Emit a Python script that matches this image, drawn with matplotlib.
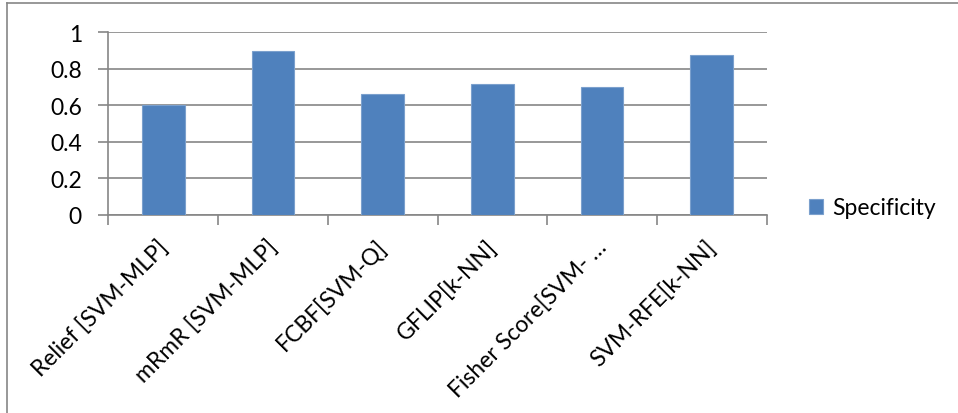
import matplotlib
matplotlib.use("Agg")
import matplotlib.pyplot as plt
from matplotlib.lines import Line2D

categories = ["Relief [SVM-MLP]", "mRmR [SVM-MLP]", "FCBF[SVM-Q]",
              "GFLIP[k-NN]", "Fisher Score[SVM- \u2026", "SVM-RFE[k-NN]"]
specificity = [0.60, 0.90, 0.66, 0.715, 0.70, 0.877]
y_ticks = [0, 0.2, 0.4, 0.6, 0.8, 1]
y_tick_labels = ["0", "0.2", "0.4", "0.6", "0.8", "1"]
series_name = "Specificity"

plt.rcParams["font.family"] = ["Lato", "DejaVu Sans"]
FS = 16.5

W, H = 958, 414
fig = plt.figure(figsize=(W / 100, H / 100), dpi=100)
ax = fig.add_axes([108.3 / W, 1 - 216 / H, (766.7 - 108.3) / W, (216 - 33.3) / H])

bar_color = "#4F81BD"
grid_color = "#868686"

x = list(range(len(categories)))
ax.bar(x, specificity, width=0.39, color=bar_color, edgecolor="#7BA0CD",
       linewidth=0.8, label=series_name, zorder=3)

ax.set_xlim(-0.5, len(categories) - 0.5)
ax.set_ylim(0, 1)
ax.set_yticks(y_ticks)
ax.set_yticklabels(y_tick_labels, fontsize=FS)
ax.yaxis.grid(True, color=grid_color, linewidth=1.2, zorder=0)
ax.tick_params(axis="y", length=7, width=1.2, color=grid_color, pad=12)

# category boundary ticks on the x axis
ax.set_xticks([i - 0.5 for i in range(len(categories) + 1)])
ax.set_xticklabels([])
ax.tick_params(axis="x", length=7, width=1.2, color=grid_color)
for i, name in enumerate(categories):
    ax.text(i + 0.01, -0.155, name, rotation=45, ha="right", va="center",
            rotation_mode="anchor", fontsize=FS, transform=ax.transData,
            clip_on=False)

for side in ("top", "right"):
    ax.spines[side].set_visible(False)
for side in ("left", "bottom"):
    ax.spines[side].set_color(grid_color)
    ax.spines[side].set_linewidth(1.2)

fig.legend(loc="center left", bbox_to_anchor=(809 / W, 1 - 209 / H),
           frameon=False, fontsize=FS, handlelength=0.62, handleheight=0.62,
           handletextpad=0.4, borderpad=0, borderaxespad=0)

# outer chart frame
fig.add_artist(Line2D([7 / W, 1], [1 - 3.5 / H, 1 - 3.5 / H],
                      transform=fig.transFigure, color=grid_color, linewidth=1.2))
fig.add_artist(Line2D([7 / W, 7 / W], [0, 1 - 3.5 / H],
                      transform=fig.transFigure, color=grid_color, linewidth=1.2))

fig.savefig("out.png", dpi=100, facecolor="white")
